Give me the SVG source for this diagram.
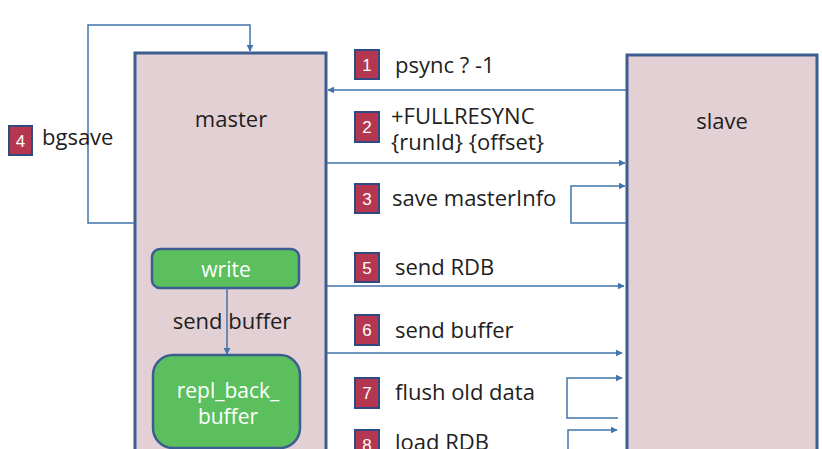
<svg xmlns="http://www.w3.org/2000/svg" width="822" height="449" viewBox="0 0 822 449">
<defs>
<marker id="arr" viewBox="0 0 10 10" refX="9" refY="5" markerWidth="7" markerHeight="7" markerUnits="userSpaceOnUse" orient="auto"><path d="M0,0 L10,5 L0,10 z" fill="#3f74ad"/></marker>
<style>
.box{fill:#e2d0d4;stroke:#3b5d8f;stroke-width:3}
.gr{fill:#5bbf5e;stroke:#3b5d8f;stroke-width:2.5}
.ln{fill:none;stroke:#3f74ad;stroke-width:1.5}
.bd{fill:#b4364f;stroke:#2e4a80;stroke-width:2}
.bn{font-family:"Liberation Sans",sans-serif;font-size:17px;fill:#ffffff;text-anchor:middle}
.t{font-family:"Open Sans","Liberation Sans",sans-serif;font-size:22px;fill:#1e1e1e}
.w{font-family:"Open Sans","Liberation Sans",sans-serif;font-size:21px;fill:#ffffff;text-anchor:middle}
</style>
</defs>
<rect width="822" height="449" fill="#ffffff"/>
<g id="master">
<rect class="box" x="135" y="53" width="191" height="410"/>
<text class="t" x="231" y="127" text-anchor="middle">master</text>
</g>
<g id="slave">
<rect class="box" x="627" y="55" width="190" height="410"/>
<text class="t" x="722" y="129" text-anchor="middle">slave</text>
</g>
<g id="write">
<rect class="gr" x="152" y="249" width="147" height="39" rx="8"/>
<text class="w" x="226" y="277">write</text>
</g>
<g id="repl_back_buffer">
<rect class="gr" x="153" y="355" width="147" height="93" rx="20"/>
<text class="w" x="228" y="398" font-size="24">repl_back_</text>
<text class="w" x="228" y="424" font-size="24">buffer</text>
</g>
<g id="connectors">
<path class="ln" d="M135,223 H88 V25 H250 V51" marker-end="url(#arr)"/>
<path class="ln" d="M626,90 H328" marker-end="url(#arr)"/>
<path class="ln" d="M327,163 H625" marker-end="url(#arr)"/>
<path class="ln" d="M626,223 H571 V186 H625" marker-end="url(#arr)"/>
<path class="ln" d="M327,286 H624" marker-end="url(#arr)"/>
<path class="ln" d="M327,353 H622" marker-end="url(#arr)"/>
<path class="ln" d="M618,418 H567 V378 H622" marker-end="url(#arr)"/>
<path class="ln" d="M568,449 V430 H617" marker-end="url(#arr)"/>
<path class="ln" d="M227,288 V354" marker-end="url(#arr)"/>
</g>
<g id="labels">
<text class="t" x="232" y="329" text-anchor="middle">send buffer</text>
<rect class="bd" x="9" y="126" width="23" height="29"/><text class="bn" x="20.5" y="147">4</text>
<text class="t" x="42" y="145" font-size="23">bgsave</text>
<rect class="bd" x="355" y="50" width="24" height="29"/><text class="bn" x="367" y="71">1</text>
<text class="t" x="395" y="73">psync ? -1</text>
<rect class="bd" x="355" y="112" width="24" height="30"/><text class="bn" x="367" y="133">2</text>
<text class="t" x="391" y="124" font-size="21.5">+FULLRESYNC</text>
<text class="t" x="391" y="150" font-size="21.5">{runId} {offset}</text>
<rect class="bd" x="355" y="184" width="24" height="29"/><text class="bn" x="367" y="205">3</text>
<text class="t" x="392" y="206">save masterInfo</text>
<rect class="bd" x="355" y="253" width="24" height="29"/><text class="bn" x="367" y="274">5</text>
<text class="t" x="395" y="275">send RDB</text>
<rect class="bd" x="355" y="315" width="24" height="30"/><text class="bn" x="367" y="336">6</text>
<text class="t" x="395" y="338">send buffer</text>
<rect class="bd" x="355" y="378" width="24" height="30"/><text class="bn" x="367" y="399">7</text>
<text class="t" x="395" y="400">flush old data</text>
<rect class="bd" x="355" y="430" width="24" height="30"/><text class="bn" x="367" y="451">8</text>
<text class="t" x="395" y="450">load RDB</text>
</g>
</svg>
